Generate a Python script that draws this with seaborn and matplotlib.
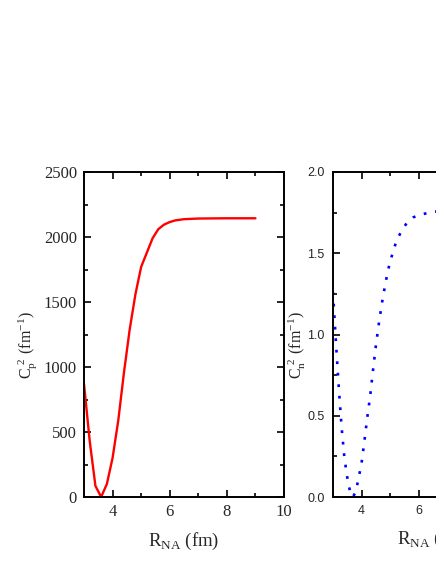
import numpy as np
import pandas as pd
import matplotlib
matplotlib.use("Agg")
import matplotlib.pyplot as plt
import seaborn as sns
from matplotlib.ticker import MultipleLocator, FormatStrFormatter

# ---- data ----
rp = [3.0, 3.2, 3.4, 3.6, 3.8, 4.0, 4.2, 4.4, 4.6, 4.8, 5.0, 5.2, 5.4, 5.6,
      5.8, 6.0, 6.2, 6.5, 7.0, 8.0, 9.0]
cp2 = [870, 430, 85, 0, 100, 300, 590, 960, 1290, 1560, 1770, 1880, 1990, 2060,
       2095, 2115, 2128, 2137, 2142, 2144, 2144]

rn = [3.0, 3.1, 3.2, 3.3, 3.4, 3.5, 3.6, 3.7, 3.8, 3.9, 4.0, 4.1, 4.2, 4.3,
      4.4, 4.5, 4.6, 4.7, 4.8, 4.9, 5.0, 5.2, 5.4, 5.6, 5.8, 6.0, 6.5, 7.0,
      8.0, 9.0]
cn2 = [1.26, 0.96, 0.68, 0.43, 0.24, 0.12, 0.03, 0.0, 0.035, 0.12, 0.21, 0.345,
       0.49, 0.62, 0.78, 0.93, 1.06, 1.18, 1.28, 1.374, 1.45, 1.565, 1.64, 1.69,
       1.72, 1.735, 1.755, 1.762, 1.765, 1.765]

xlabel = r'R$_{\mathregular{NA}}$ (fm)'
ylabel_p = r'$\mathregular{C_p^{\ 2}\ (fm^{-1})}$'
ylabel_n = r'$\mathregular{C_n^{\ 2}\ (fm^{-1})}$'

sns.set_style("ticks")
plt.rcParams['font.family'] = ['Liberation Serif', 'DejaVu Serif']
plt.rcParams['mathtext.fontset'] = 'custom'
plt.rcParams['mathtext.rm'] = 'Liberation Serif'
plt.rcParams['lines.scale_dashes'] = False

W, H = 436, 564
fig = plt.figure(figsize=(W / 100, H / 100), dpi=100)

def px_axes(x0, top, w, h):
    return fig.add_axes([x0 / W, 1 - (top + h) / H, w / W, h / H])

ax1 = px_axes(84, 172, 200, 325)
ax2 = px_axes(333, 172, 200, 325)

df_p = pd.DataFrame({'R': rp, 'C': cp2})
df_n = pd.DataFrame({'R': rn, 'C': cn2})

sns.lineplot(data=df_p, x='R', y='C', ax=ax1, color='#ff0000', lw=1.7)
sns.lineplot(data=df_n, x='R', y='C', ax=ax2, color='#0000ff', lw=1.9)
bl = ax2.lines[0]
bl.set_linewidth(1.9)
bl.set_linestyle((0, (2.0, 6.3)))
bl.set_dash_capstyle('butt')

for ax in (ax1, ax2):
    ax.set_xlim(3, 10)
    ax.xaxis.set_major_locator(MultipleLocator(2))
    ax.xaxis.set_minor_locator(MultipleLocator(1))
    for s in ax.spines.values():
        s.set_visible(True)
        s.set_linewidth(1.4)
        s.set_color('black')
    ax.tick_params(which='both', direction='in', top=True, right=True,
                   width=1.2, color='black')
    ax.tick_params(which='major', length=5)
    ax.tick_params(which='minor', length=3)
    ax.set_xlabel(xlabel, fontsize=13.5, labelpad=8)

ax1.set_ylim(0, 2500)
ax1.yaxis.set_major_locator(MultipleLocator(500))
ax1.yaxis.set_minor_locator(MultipleLocator(250))
ax1.tick_params(which='major', labelsize=12, pad=5)
ax1.set_ylabel(ylabel_p, fontsize=11.5)
ax1.yaxis.set_label_coords(-0.225, 0.468)

ax2.set_ylim(0, 2.0)
ax2.yaxis.set_major_locator(MultipleLocator(0.5))
ax2.yaxis.set_minor_locator(MultipleLocator(0.25))
ax2.yaxis.set_major_formatter(FormatStrFormatter('%.1f'))
ax2.tick_params(which='major', labelsize=9, pad=6)
for lab in ax2.get_xticklabels() + ax2.get_yticklabels():
    lab.set_family(['Liberation Sans', 'DejaVu Sans'])
ax2.set_ylabel(ylabel_n, fontsize=11.5)
ax2.yaxis.set_label_coords(-0.127, 0.468)

fig.savefig('out.png', dpi=100)
